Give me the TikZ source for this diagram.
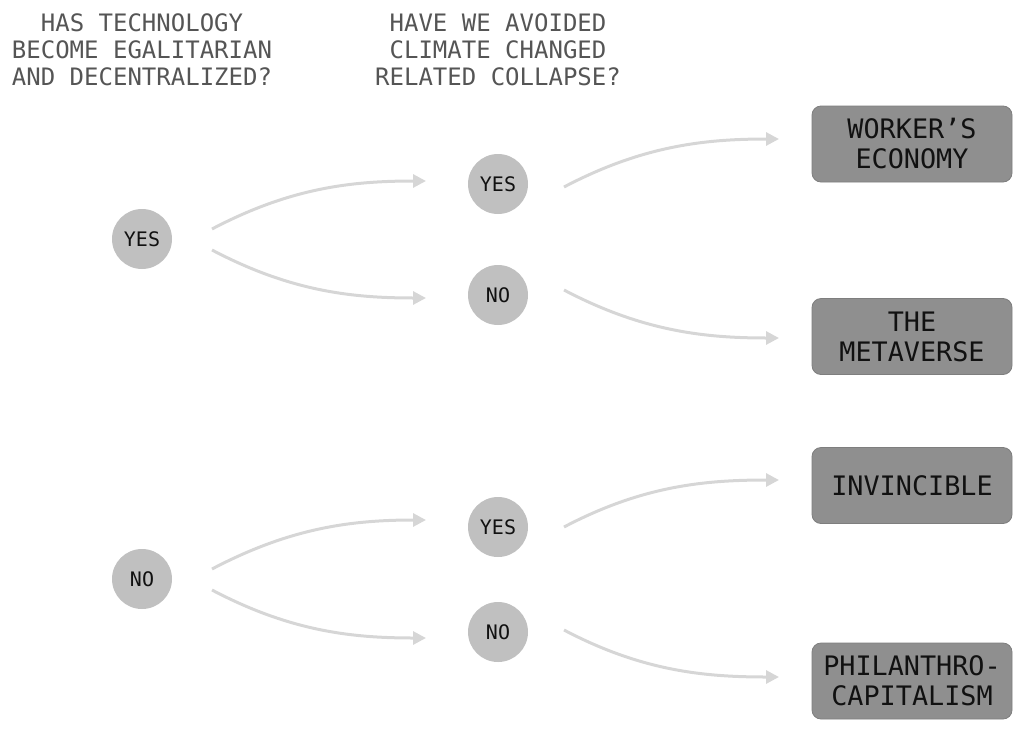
\documentclass[tikz,border=0pt]{standalone}
\usepackage{fontspec}
\setmainfont{DejaVu Sans Mono}
\usetikzlibrary{arrows.meta}
\definecolor{headgray}{HTML}{555555}
\definecolor{circfill}{HTML}{C0C0C0}
\definecolor{boxfill}{HTML}{8F8F8F}
\definecolor{boxline}{HTML}{7E7E7E}
\definecolor{arrowgray}{HTML}{D6D6D6}
\definecolor{inktext}{HTML}{111111}
\tikzset{
  heading/.style={align=center, text=headgray, font=\fontsize{24pt}{27pt}\selectfont, inner sep=0pt},
  choice/.style={circle, fill=circfill, minimum size=60pt, inner sep=0pt, text=inktext, font=\fontsize{20pt}{22pt}\selectfont},
  outcome/.style={rounded corners=9pt, fill=boxfill, draw=boxline, line width=0.8pt, minimum width=200pt, minimum height=76pt, align=center, text=inktext, font=\fontsize{26.8pt}{30pt}\selectfont, inner sep=0pt},
  flow/.style={draw=arrowgray, line width=3pt, -{Triangle[length=13pt,width=13pt]}}
}
\begin{document}
\begin{tikzpicture}[x=1pt,y=-1pt]
\useasboundingbox (0,0) rectangle (1024,731);
% headings
\node[heading] (h1) at (142,50) {HAS TECHNOLOGY\\BECOME EGALITARIAN\\AND DECENTRALIZED?};
\node[heading] (h2) at (498,50) {HAVE WE AVOIDED\\CLIMATE CHANGED\\RELATED COLLAPSE?};
% circles
\node[choice] (ty) at (142,239) {YES};
\node[choice] (tn) at (142,579) {NO};
\node[choice] (cyy) at (498,184) {YES};
\node[choice] (cyn) at (498,295) {NO};
\node[choice] (cny) at (498,527) {YES};
\node[choice] (cnn) at (498,632) {NO};
% outcomes
\node[outcome] (o1) at (912,144) {WORKER’S\\ECONOMY};
\node[outcome] (o2) at (912,336.5) {THE\\METAVERSE};
\node[outcome] (o3) at (912,485.5) {INVINCIBLE};
\node[outcome] (o4) at (912,681) {PHILANTHRO-\\CAPITALISM};
% arrow end points
\coordinate (a1s) at (212,229); \coordinate (a1e) at (426,181);
\coordinate (a2s) at (212,250); \coordinate (a2e) at (426,298);
\coordinate (a3s) at (564,187); \coordinate (a3e) at (779,139);
\coordinate (a4s) at (564,290); \coordinate (a4e) at (779,338);
\coordinate (b1s) at (212,569); \coordinate (b1e) at (426,520);
\coordinate (b2s) at (212,590); \coordinate (b2e) at (426,638);
\coordinate (b3s) at (564,527); \coordinate (b3e) at (779,480);
\coordinate (b4s) at (564,630); \coordinate (b4e) at (779,677);
% connectors
\draw[flow] (a1s) .. controls ([shift={(78,-41)}]a1s) and ([shift={(-75,0)}]a1e) .. (a1e);
\draw[flow] (a2s) .. controls ([shift={(78,41)}]a2s) and ([shift={(-75,0)}]a2e) .. (a2e);
\draw[flow] (a3s) .. controls ([shift={(78,-41)}]a3s) and ([shift={(-75,0)}]a3e) .. (a3e);
\draw[flow] (a4s) .. controls ([shift={(78,41)}]a4s) and ([shift={(-75,0)}]a4e) .. (a4e);
\draw[flow] (b1s) .. controls ([shift={(78,-41)}]b1s) and ([shift={(-75,0)}]b1e) .. (b1e);
\draw[flow] (b2s) .. controls ([shift={(78,41)}]b2s) and ([shift={(-75,0)}]b2e) .. (b2e);
\draw[flow] (b3s) .. controls ([shift={(78,-41)}]b3s) and ([shift={(-75,0)}]b3e) .. (b3e);
\draw[flow] (b4s) .. controls ([shift={(78,41)}]b4s) and ([shift={(-75,0)}]b4e) .. (b4e);
\end{tikzpicture}
\end{document}
